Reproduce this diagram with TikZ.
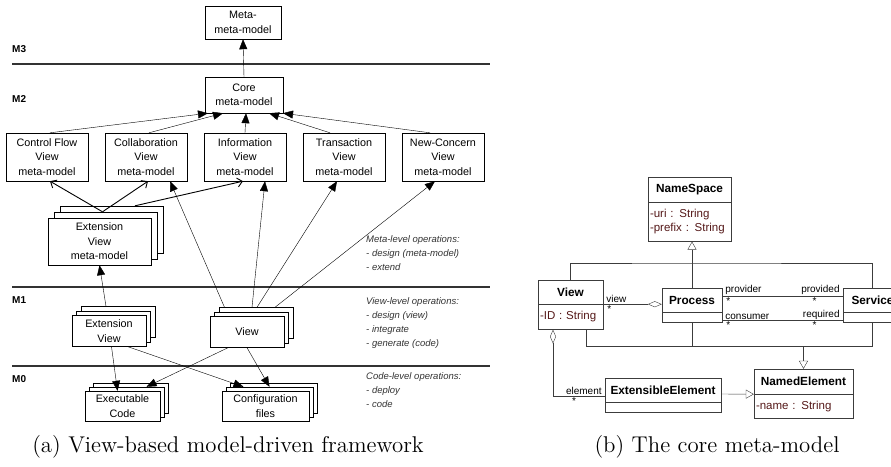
\documentclass[tikz,border=0pt]{standalone}
\usepackage{fontspec}
\setsansfont{Liberation Sans}
\usetikzlibrary{positioning,arrows.meta,shadows}

\definecolor{attrred}{RGB}{85,25,25}
\definecolor{umlgray}{RGB}{60,60,60}

\tikzset{
  mbox/.style={draw, fill=white, align=center, inner sep=1pt,
    font=\sffamily\fontsize{10.8}{14.5}\selectfont},
  pile/.style={general shadow={shadow xshift=#1*2, shadow yshift=#1*2, draw, fill=white},
    general shadow={shadow xshift=#1, shadow yshift=#1, draw, fill=white}},
  lvl/.style={line width=1.3pt, black!80},
  lvltext/.style={anchor=west, inner sep=0pt, font=\sffamily\bfseries\fontsize{10}{12}\selectfont},
  ops/.style={anchor=north west, align=left, inner sep=0pt, text=black!80,
    font=\sffamily\itshape\fontsize{9.5}{14}\selectfont},
  toup/.style={-{Triangle[length=10pt, width=8pt]}},
  extarrow/.style={-{Straight Barb[length=5pt, width=9pt]}, line width=0.9pt},
  capt/.style={anchor=base, scale=1.9, font=\fontsize{12}{14}\selectfont},
  cname/.style={draw=umlgray, fill=white, minimum height=24, inner sep=0pt,
    font=\sffamily\bfseries\fontsize{11.8}{13}\selectfont},
  cattr/.style={draw=umlgray, fill=white, inner sep=2pt, align=left, text=attrred,
    font=\sffamily\fontsize{11.5}{14}\selectfont},
  umlline/.style={draw=umlgray},
  gen/.style={draw=umlgray, -{Triangle[open, length=8pt, width=9pt]}},
  agg/.style={draw=umlgray, -{Diamond[open, length=14pt, width=6pt]}},
  aggst/.style={draw=umlgray, {Diamond[open, length=14pt, width=6pt]}-},
  rolelbl/.style={inner sep=1pt, font=\sffamily\fontsize{10}{12}\selectfont},
}

\begin{document}
\begin{tikzpicture}[x=1pt, y=-1pt]

\useasboundingbox (0,0) rectangle (891,466);

% (a) framework
\draw[lvl] (12,64) -- (490,64);
\draw[lvl] (12,287) -- (490,287);
\draw[lvl] (12,366) -- (490,366);

\node[lvltext] (m3) at (12,49) {M3};
\node[lvltext] (m2) at (12,99) {M2};
\node[lvltext] (m1) at (12,300) {M1};
\node[lvltext] (m0) at (12,379) {M0};

\node[mbox, minimum width=76, minimum height=33] (meta) at (243,22.5) {Meta-\\meta-model};
\node[mbox, minimum width=78, minimum height=36] (core) at (244,95) {Core\\meta-model};
\draw[toup] (core.north) -- (meta.south);

\foreach \n/\t [count=\i] in {cf/Control Flow, collab/Collaboration, info/Information,
    trans/Transaction, newc/New-Concern}
  \node[mbox, minimum width=82, minimum height=48] (\n) at (47+99*\i-99,157) {\t\\View\\meta-model};

\foreach \n/\a/\b in {cf/3/-36, collab/3/-21, info/0/2, trans/-14/25, newc/-13/39}
  \draw[toup] ([xshift=\a]\n.north) -- ([xshift=\b]core.south);

\node[mbox, pile=6pt, minimum width=103, minimum height=47] (extmm) at (99.5,241.5)
  {Extension\\View\\meta-model};

\draw[extarrow] ([xshift=3,yshift=6]extmm.north) -- ([xshift=3]cf.south);
\draw[extarrow] ([xshift=3,yshift=6]extmm.north) -- ([xshift=2]collab.south);
\draw[extarrow] ([xshift=35.5,yshift=12]extmm.north) -- ([xshift=-2]info.south);

\node[mbox, pile=4.5pt, minimum width=74, minimum height=31] (extv) at (109,331) {Extension\\View};
\node[mbox, pile=4.5pt, minimum width=74, minimum height=31] (view) at (247,332) {View};
\node[mbox, pile=4pt, minimum width=75, minimum height=30] (exec) at (122.5,406) {Executable\\Code};
\node[mbox, pile=4pt, minimum width=87, minimum height=30] (conf) at (265.5,406) {Configuration\\files};

\draw[toup] ([xshift=-3,yshift=9]extv.north) -- (extmm.south);
\draw[toup] ([xshift=-22.5,yshift=9]view.north) -- ([xshift=24]collab.south);
\draw[toup] ([xshift=5,yshift=9]view.north) -- ([xshift=20]info.south);
\draw[toup] ([xshift=10,yshift=9]view.north) -- ([xshift=-7]trans.south);
\draw[toup] ([xshift=28,yshift=9]view.north) -- ([xshift=-8]newc.south);
\draw[toup] ([xshift=2.5]extv.south) -- ([xshift=-5]exec.north);
\draw[toup] ([xshift=19]extv.south) -- ([xshift=-22,yshift=4]conf.north);
\draw[toup] ([xshift=-19]view.south) -- ([xshift=24,yshift=4]exec.north);
\draw[toup] (view.south) -- ([xshift=4,yshift=4]conf.north);

\node[ops] (metaops) at (366,235.5) {Meta-level operations:\\- design (meta-model)\\- extend};
\node[ops] (viewops) at (366,297.5) {View-level operations:\\- design (view)\\- integrate\\- generate (code)};
\node[ops] (codeops) at (366,372) {Code-level operations:\\- deploy\\- code};

\node[capt] (capa) at (228,452) {(a) View-based model-driven framework};

% (b) core meta-model
\node[cname, minimum width=83, minimum height=25] (nspace) at (689.5,189.5) {NameSpace};
\node[cattr, text width=79, minimum height=39, below=0pt of nspace] (nspace-a)
  {-uri : String\\-prefix : String};
\node[cname, minimum width=65] (uview) at (570.5,292) {View};
\node[cattr, text width=61, minimum height=25, below=0pt of uview] (uview-a) {-ID : String};
\node[cname, minimum width=60] (proc) at (692,300) {Process};
\node[cattr, minimum width=60, minimum height=10, below=0pt of proc] (proc-a) {};
\node[cname, minimum width=59] (serv) at (872.5,300) {Service};
\node[cattr, minimum width=59, minimum height=10, below=0pt of serv] (serv-a) {};
\node[cname, minimum width=99, minimum height=25] (named) at (803.5,381.5) {NamedElement};
\node[cattr, text width=95, minimum height=24, below=0pt of named] (named-a) {-name : String};
\node[cname, minimum width=116] (extel) at (663,390) {ExtensibleElement};
\node[cattr, minimum width=116, minimum height=10, below=0pt of extel] (extel-a) {};

\coordinate (gtop) at (proc.north |- 0,263);
\coordinate (gbot) at (named.north |- 0,346);

\draw[gen] (proc.north) -- (proc.north |- nspace-a.south);
\draw[umlline] (uview.north) |- (gtop) -| (serv.north);

\draw[umlline] ([xshift=15.5]uview-a.south) |- (gbot);
\draw[umlline] (proc-a.south) -- (proc-a.south |- gbot);
\draw[umlline] (serv-a.south) |- (gbot);
\draw[gen] (gbot) -- (named.north);

\draw[agg] (uview.south east) -- (uview.south east -| proc.west)
  node[rolelbl, pos=0, anchor=south west, xshift=2] (r-view) {view}
  node[rolelbl, pos=0, anchor=north west, xshift=3] (r-view-m) {*};

\draw[umlline] ([yshift=4]proc.east) -- ([yshift=4]serv.west)
  node[rolelbl, pos=0, anchor=south west, xshift=2] (r-provider) {provider}
  node[rolelbl, pos=1, anchor=south east, xshift=-2] (r-provided) {provided}
  node[rolelbl, pos=0, anchor=north west, xshift=3] (r-provider-m) {*}
  node[rolelbl, pos=1, anchor=north east, xshift=-25] (r-provided-m) {*};

\draw[umlline] ([yshift=-3]proc-a.east) -- ([yshift=-3]serv-a.west)
  node[rolelbl, pos=0, anchor=south west, xshift=2] (r-consumer) {consumer}
  node[rolelbl, pos=1, anchor=south east, xshift=-2] (r-required) {required}
  node[rolelbl, pos=0, anchor=north west, xshift=3] (r-consumer-m) {*}
  node[rolelbl, pos=1, anchor=north east, xshift=-25] (r-required-m) {*};

\draw[aggst] ([xshift=-17.5]uview-a.south) |- ([yshift=-6]extel.west)
  node[rolelbl, pos=1, anchor=south east, xshift=-2] (r-element) {element}
  node[rolelbl, pos=0.5, anchor=north west, xshift=18] (r-element-m) {*};

\draw[gen] ([yshift=-4]extel.east) -- (named.south west);

\node[capt] (capb) at (717,452) {(b) The core meta-model};

\end{tikzpicture}
\end{document}
